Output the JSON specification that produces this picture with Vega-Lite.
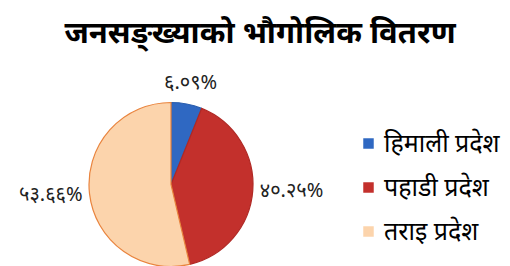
{
  "$schema": "https://vega.github.io/schema/vega-lite/v6.json",
  "autosize": "none",
  "width": 164,
  "height": 163,
  "padding": {"left": 89, "top": 103, "right": 257, "bottom": 0},
  "background": "white",
  "title": {
    "text": "जनसङ्ख्याको भौगोलिक वितरण",
    "font": "Noto Sans",
    "fontSize": 31,
    "fontWeight": "bold",
    "color": "black",
    "anchor": "middle",
    "frame": "group",
    "dx": 89,
    "offset": 23
  },
  "data": {
    "values": [
      {"region": "हिमाली प्रदेश", "share": 6.09, "label": "६.०९%", "ord": 1},
      {"region": "पहाडी प्रदेश", "share": 40.25, "label": "४०.२५%", "ord": 2},
      {"region": "तराइ प्रदेश", "share": 53.66, "label": "५३.६६%", "ord": 3}
    ]
  },
  "encoding": {
    "theta": {"field": "share", "type": "quantitative", "stack": true},
    "order": {"field": "ord", "type": "quantitative"}
  },
  "layer": [
    {
      "mark": {"type": "arc", "outerRadius": 82, "strokeWidth": 1.2},
      "encoding": {
        "color": {
          "field": "region",
          "type": "nominal",
          "sort": ["हिमाली प्रदेश", "पहाडी प्रदेश", "तराइ प्रदेश"],
          "scale": {"domain": ["हिमाली प्रदेश", "पहाडी प्रदेश", "तराइ प्रदेश"], "range": ["#2F68C2", "#C3302C", "#FCD4AC"]},
          "legend": {
            "title": null,
            "orient": "none",
            "legendX": 267,
            "legendY": 28,
            "symbolType": "square",
            "symbolSize": 110,
            "symbolStrokeWidth": 0,
            "labelFont": "Noto Sans",
            "labelFontSize": 25,
            "labelColor": "black",
            "labelOffset": 3,
            "rowPadding": 18
          }
        },
        "stroke": {
          "field": "region",
          "type": "nominal",
          "scale": {"domain": ["हिमाली प्रदेश", "पहाडी प्रदेश", "तराइ प्रदेश"], "range": ["#2A5EAE", "#B02824", "#E9843E"]},
          "legend": null
        }
      }
    },
    {
      "mark": {
        "type": "text",
        "radius": {"expr": "datum.ord == 1 ? 103 : 89"},
        "align": {"expr": "datum.ord == 1 ? 'center' : (datum.ord == 2 ? 'left' : 'right')"},
        "baseline": "middle",
        "font": "Noto Sans",
        "fontSize": 20,
        "color": "#222"
      },
      "encoding": {"text": {"field": "label"}}
    }
  ]
}
